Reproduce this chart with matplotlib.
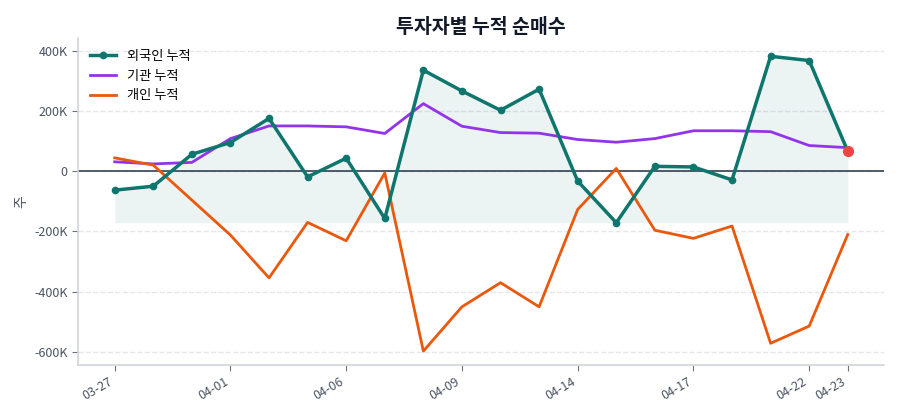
import matplotlib
matplotlib.use("Agg")
import matplotlib.pyplot as plt
import numpy as np
from matplotlib.ticker import FuncFormatter

plt.rcParams['font.family'] = ['Noto Sans CJK KR', 'DejaVu Sans']

dates = ["03-27", "03-30", "03-31", "04-01", "04-02", "04-03", "04-06", "04-07",
         "04-08", "04-09", "04-10", "04-13", "04-14", "04-15", "04-16", "04-17",
         "04-20", "04-21", "04-22", "04-23"]
foreign = [-63, -50, 56, 95, 175, -19, 43, -157, 335, 266, 202, 272, -33, -171,
           16, 14, -29, 381, 367, 66]
institution = [31, 24, 29, 108, 150, 150, 147, 125, 224, 149, 128, 126, 105, 96,
               108, 134, 134, 131, 85, 78]
individual = [44, 20, -96, -212, -354, -170, -231, -6, -597, -450, -370, -450,
              -127, 9, -196, -223, -182, -571, -514, -210]
tick_idx = [0, 3, 6, 9, 12, 15, 18, 19]

foreign = np.array(foreign) * 1000
institution = np.array(institution) * 1000
individual = np.array(individual) * 1000
x = np.arange(len(dates))

fig = plt.figure(figsize=(9, 4.2), dpi=100)
ax = fig.add_axes([0.0867, 0.131, 0.896, 0.778])

teal = "#0f766e"
ax.fill_between(x, foreign, foreign.min(), color=teal, alpha=0.08, linewidth=0)
ax.plot(x, foreign, color=teal, linewidth=2.5, marker="o", markersize=4.5, label="외국인 누적", zorder=4)
ax.plot(x, institution, color="#9333ea", linewidth=2, label="기관 누적", zorder=3)
ax.plot(x, individual, color="#ea580c", linewidth=2, label="개인 누적", zorder=3)
ax.scatter([x[-1]], [foreign[-1]], color="#ef4444", s=50, zorder=5)
ax.axhline(0, color="#334155", linewidth=1.2, zorder=2)

ax.set_xlim(-0.95, 19.95)
ax.set_ylim(-643000, 441000)
ax.set_yticks([-600000, -400000, -200000, 0, 200000, 400000])
ax.yaxis.set_major_formatter(FuncFormatter(lambda v, p: "0" if v == 0 else f"{int(v/1000)}K"))
ax.set_xticks(tick_idx)
ax.set_xticklabels([dates[i] for i in tick_idx], rotation=30, ha="right")
ax.grid(axis="y", linestyle="--", color="#e5e7eb", linewidth=1)
ax.set_axisbelow(True)
for s in ["top", "right"]:
    ax.spines[s].set_visible(False)
for s in ["left", "bottom"]:
    ax.spines[s].set_color("#d1d5db")
    ax.spines[s].set_linewidth(1.2)
ax.tick_params(colors="#4b5563", labelsize=9, length=4)
ax.tick_params(axis="both", color="#6b7280")
ax.set_ylabel("주", color="#4b5563", fontsize=10)
ax.set_title("투자자별 누적 순매수", fontsize=14, fontweight="bold", color="#111827", pad=4)
leg = ax.legend(loc="upper left", frameon=False, fontsize=9.5)

fig.savefig("out.png", dpi=100)
